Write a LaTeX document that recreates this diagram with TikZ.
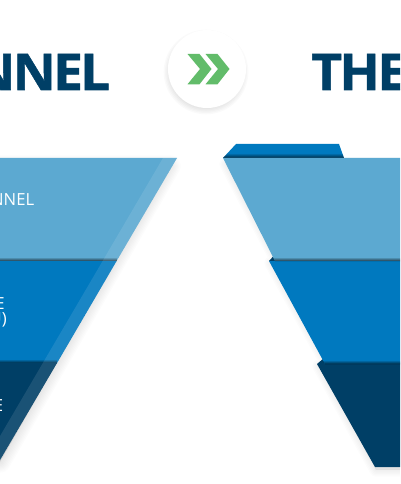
\documentclass[tikz,border=0pt]{standalone}
\usepackage{fontspec}
\setmainfont{Open Sans}
\newfontfamily\titlefont[BoldFeatures={FakeBold=1.0,FakeStretch=1.05,LetterSpace=-5.5}]{Open Sans}
\newfontfamily\bodyfont{Open Sans}
\usetikzlibrary{fadings}
\definecolor{navy}{HTML}{003F66}
\definecolor{midblue}{HTML}{0079BF}
\definecolor{lightblue}{HTML}{5CA9D1}
\definecolor{chev}{HTML}{62BC6A}
\tikzset{
  titletext/.style={font=\titlefont\fontsize{38}{38}\selectfont\bfseries, text=navy, inner sep=0pt},
  bodytext/.style={font=\bodyfont\fontsize{12.5}{13}\selectfont, text=white, inner sep=0pt, align=right},
  softshadow/.style={fill=black, fill opacity=0.012, draw=black, draw opacity=0.012, line width=#1, line join=round},
}
\tikzfading[name=fadeup, top color=transparent!100, bottom color=transparent!35]
\begin{document}
\begin{tikzpicture}[x=0.75pt,y=-0.75pt]
\useasboundingbox (0,0) rectangle (400,484);
\clip (0,0) rectangle (400,484);
% titles
\node[titletext, anchor=base east] (t1) at (110.5,90) {NNEL};
\node[titletext, anchor=base west] (t2) at (311,90) {THE};
% circle
\foreach \w in {1,3,5,7,9,11}{
  \fill[black, opacity=0.018] (206,72) circle ({35+\w/1.5});
}
\node[circle, fill=white, minimum size=58.5pt, inner sep=0pt] (c) at (207,69) {};
\fill[chev] (187.5,54) -- (199.5,54) -- (211.5,69) -- (199.5,84.3) -- (187.5,84.3) -- (200,69) -- cycle;
\fill[chev] (205.5,54) -- (217.5,54) -- (229.5,69) -- (217.5,84.3) -- (205.5,84.3) -- (218,69) -- cycle;
% left funnel shadow
\foreach \w in {2,4,6,8,10,12,14,16}{
  \fill[softshadow=\w] (-20,166) -- (170,166) -- (0,462) -- (-20,462) -- cycle;
}
\fill[lightblue] (-5,158) -- (177,158) -- (116.6,261) -- (-5,261) -- cycle;
\fill[midblue] (-5,261) -- (116.6,261) -- (57,363) -- (-5,363) -- cycle;
\fill[navy] (-5,363) -- (57,363) -- (0,460) -- (-5,460) -- cycle;
\fill[black, path fading=fadeup] (-5,257) rectangle (116.6,261);
\fill[black, path fading=fadeup] (-5,359) rectangle (57,363);
\begin{scope}
\clip (-5,158) -- (177,158) -- (0,460) -- (-5,460) -- cycle;
\fill[white, opacity=0.1] (163,158) -- (177,158) -- (0,460) -- (-14,460) -- cycle;
\end{scope}
\node[bodytext, anchor=base east] (a) at (34.5,206) {NNEL};
\node[bodytext, anchor=base east] (b1) at (5,309) {E};
\node[bodytext, anchor=base east] (b2) at (7,324) {U)};
\node[bodytext, anchor=base east] (d) at (3.5,411) {E};
% right funnel shadows
\foreach \w in {2,4,6,8,10}{
  \fill[softshadow=\w] (226,164) -- (277,261) -- (271,263) -- (327,364) -- (319,366) -- (376,470) -- (420,470) -- (420,164) -- cycle;
}
% back flaps
\fill[midblue] (223,158) -- (236,144) -- (339,144) -- (344,158) -- cycle;
\fill[black, path fading=fadeup] (227.7,153) -- (342.2,153) -- (344,158) -- (223,158) -- cycle;
\fill[navy] (269,261) -- (274,255.5) -- (279,261) -- cycle;
\fill[navy] (317,364) -- (324,358) -- (328,364) -- cycle;
% layers
\fill[lightblue] (223,158) -- (275,261) -- (405,261) -- (405,158) -- cycle;
\fill[midblue] (269,261) -- (325,364) -- (405,364) -- (405,261) -- cycle;
\fill[navy] (317,364) -- (375,467) -- (405,467) -- (405,364) -- cycle;
\fill[black, path fading=fadeup] (273,257) -- (405,257) -- (405,261) -- (275,261) -- cycle;
\fill[black, path fading=fadeup] (322.8,360) -- (405,360) -- (405,364) -- (325,364) -- cycle;
\end{tikzpicture}
\end{document}
